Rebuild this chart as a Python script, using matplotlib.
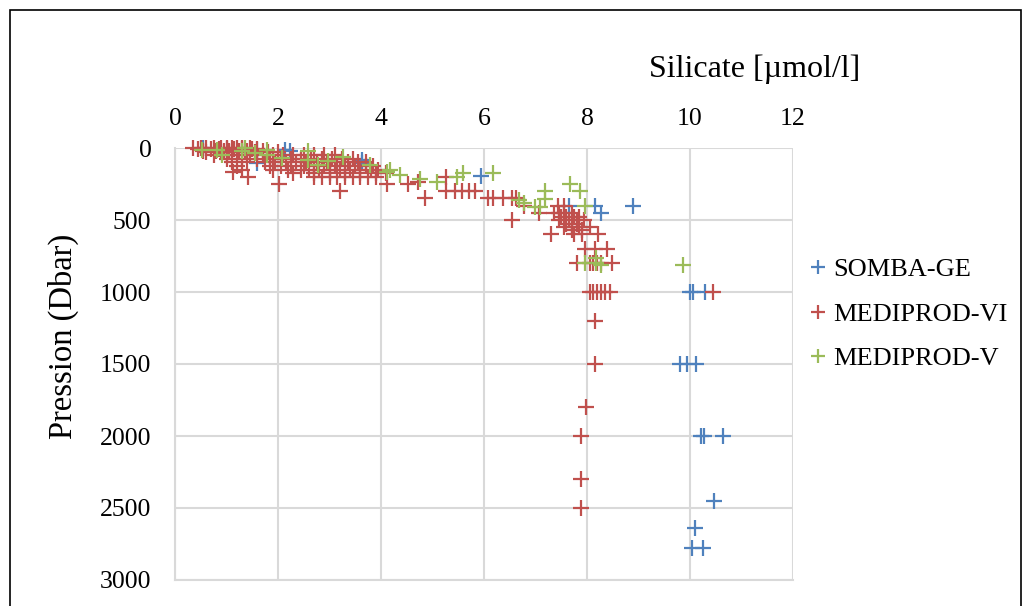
import matplotlib
matplotlib.use("Agg")
import matplotlib.pyplot as plt
from matplotlib.patches import Rectangle

plt.rcParams['font.family'] = ['Liberation Serif', 'DejaVu Serif']

series_names = ["SOMBA-GE", "MEDIPROD-VI", "MEDIPROD-V"]
series_colors = ["#4F81BD", "#C0504D", "#9BBB59"]

# SOMBA-GE
somba_si = [0.55, 1.59, 1.6, 2.14, 2.23, 3.63, 3.63, 5.95, 7.66, 8.16, 8.28, 8.89,
            10.0, 10.05, 10.29, 9.81, 9.95, 10.12, 10.22, 10.27, 10.65, 10.47, 10.1, 10.03, 10.26]
somba_p = [0, 14, 104, 12, 20, 83, 106, 194, 400, 400, 450, 400,
           1000, 1000, 1000, 1500, 1500, 1500, 2000, 2000, 2000, 2450, 2640, 2780, 2780]

# MEDIPROD-VI
medi6_si = [0.35, 0.5, 0.6, 0.75, 0.9, 1.0, 1.1, 1.2, 1.3, 1.45,
            0.45, 0.7, 0.85, 1.0, 1.15, 1.3, 1.5, 1.6,
            0.55, 0.8, 0.95, 1.05, 1.25, 1.4, 1.7,
            0.6, 0.9, 1.1, 1.35, 1.55, 1.8, 2.0,
            0.75, 1.0, 1.2, 1.45, 1.7, 1.9, 2.1, 2.3, 2.5, 2.7, 2.9, 3.1,
            1.0, 1.3, 1.6, 1.85, 2.05, 2.25, 2.45, 2.65, 2.85, 3.05, 3.25, 3.45,
            1.1, 1.4, 1.75, 1.95, 2.15, 2.35, 2.55, 2.75, 2.95, 3.15, 3.35, 3.55, 3.7,
            1.2, 1.85, 2.05, 2.25, 2.5, 2.7, 2.9, 3.1, 3.3, 3.5, 3.7, 3.85,
            1.3, 1.9, 2.2, 2.45, 2.6, 2.8, 3.0, 3.2, 3.4, 3.6, 3.8, 3.95,
            2.3, 2.7, 3.0, 3.3, 3.6, 3.9, 4.1,
            1.13, 1.42, 2.7, 2.85, 3.0, 3.15, 3.3, 3.45, 3.6, 3.75, 3.9, 5.27,
            2.01, 4.11, 4.53, 4.72,
            3.20, 5.27, 5.44, 5.57, 5.70, 5.83,
            4.85, 6.08, 6.18, 6.37, 6.55, 6.63,
            6.77, 7.44, 7.55,
            7.06, 7.35, 7.45, 7.55, 7.7,
            7.5, 7.6, 7.75, 7.85,
            6.54, 7.45, 7.65, 7.8, 7.95,
            7.6, 7.8,
            7.55, 7.7, 7.85, 8.05,
            7.7, 7.9,
            7.31, 7.75, 7.9, 8.22,
            7.96, 8.16, 8.38,
            7.80, 8.05, 8.12, 8.2, 8.28, 8.48,
            8.06, 8.12, 8.2, 8.28, 8.35, 8.45, 10.45,
            8.16, 8.16, 7.98, 7.89, 7.89, 7.89]
medi6_p = [0, 0, 0, 0, 0, 0, 0, 0, 0, 0,
           10, 10, 10, 10, 10, 10, 10, 10,
           20, 20, 20, 20, 20, 20, 20,
           30, 30, 30, 30, 30, 30, 30,
           50, 50, 50, 50, 50, 50, 50, 50, 50, 50, 50, 50,
           75, 75, 75, 75, 75, 75, 75, 75, 75, 75, 75, 75,
           100, 100, 100, 100, 100, 100, 100, 100, 100, 100, 100, 100, 100,
           125, 125, 125, 125, 125, 125, 125, 125, 125, 125, 125, 125,
           150, 150, 150, 150, 150, 150, 150, 150, 150, 150, 150, 150,
           175, 175, 175, 175, 175, 175, 175,
           165, 200, 200, 200, 200, 200, 200, 200, 200, 200, 200, 200,
           250, 250, 250, 235,
           300, 300, 300, 300, 300, 300,
           350, 350, 350, 350, 350, 350,
           400, 400, 400,
           450, 450, 450, 450, 450,
           480, 480, 480, 480,
           500, 500, 500, 500, 500,
           530, 530,
           550, 550, 550, 550,
           570, 570,
           600, 600, 600, 600,
           700, 700, 700,
           800, 800, 800, 800, 800, 800,
           1000, 1000, 1000, 1000, 1000, 1000, 1000,
           1200, 1500, 1800, 2000, 2300, 2500]

# MEDIPROD-V
medi5_si = [0.52, 0.81, 0.91, 1.3, 1.36, 1.55, 1.78, 1.78, 2.07, 2.59, 2.59, 2.78, 2.98,
            3.27, 3.79, 4.11, 4.17, 4.37, 4.76, 5.08, 5.47, 5.6, 6.18,
            6.67, 6.77, 7.18, 7.18, 6.99, 7.09, 7.67, 7.86, 7.96,
            7.96, 8.17, 8.17, 8.28, 9.87]
medi5_p = [12, 12, 47, 23, 0, 35, 12, 47, 69, 23, 81, 116, 93,
           60, 118, 164, 153, 188, 218, 234, 199, 176, 175,
           361, 384, 300, 355, 407, 407, 250, 296, 400,
           800, 766, 800, 812, 810]

x_ticks = [0, 2, 4, 6, 8, 10, 12]
y_ticks = [0, 500, 1000, 1500, 2000, 2500, 3000]

fig = plt.figure(figsize=(10.24, 6.06), dpi=100)
ax = fig.add_axes([175 / 1024, 1 - 580 / 606, 618 / 1024, 432 / 606])

data = [(somba_si, somba_p), (medi6_si, medi6_p), (medi5_si, medi5_p)]
for (xs, ys), name, col in zip(data, series_names, series_colors):
    ax.plot(xs, ys, linestyle='none', marker='+', markersize=11, markeredgewidth=1.6,
            color=col, label=name, clip_on=False)

ax.set_xlim(0, 12)
ax.set_ylim(3000, 0)
ax.set_xticks(x_ticks)
ax.set_yticks(y_ticks)
ax.xaxis.tick_top()
ax.tick_params(axis='both', length=0, labelsize=18.5)
ax.tick_params(axis='x', pad=13)
ax.tick_params(axis='y', pad=17)
ax.grid(True, color='#d9d9d9', linewidth=1.5)
ax.set_axisbelow(True)
for s in ['top', 'right']:
    ax.spines[s].set_visible(False)
for s in ['left', 'bottom']:
    ax.spines[s].set_color('#d9d9d9')
    ax.spines[s].set_linewidth(1.5)

ax.set_ylabel("Pression (Dbar)", fontsize=23.5)
ax.yaxis.set_label_coords(-0.155, 0.565)
fig.text(755 / 1024, 1 - 69 / 606, "Silicate [µmol/l]", fontsize=23,
         ha='center', va='center')

leg = fig.legend(loc='upper left', bbox_to_anchor=(786 / 1024, 1 - 234 / 606),
                 frameon=False, fontsize=19, handlelength=0.6, handletextpad=0.3,
                 labelspacing=0.8, markerscale=0.9)

fig.patches.append(Rectangle((10 / 1024, -0.1), 1011 / 1024, 1.1 - 10 / 606,
                             transform=fig.transFigure, fill=False,
                             edgecolor='black', linewidth=1.2))

fig.savefig("out.png", dpi=100)
